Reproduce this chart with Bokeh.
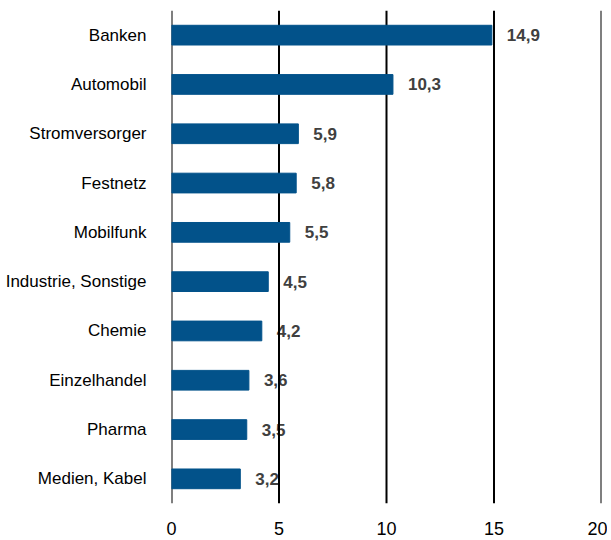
from bokeh.plotting import figure
from bokeh.models import ColumnDataSource, FixedTicker, Span
from bokeh.embed import file_html
from bokeh.resources import INLINE
from bokeh.core.properties import value

categories = ["Banken", "Automobil", "Stromversorger", "Festnetz", "Mobilfunk",
              "Industrie, Sonstige", "Chemie", "Einzelhandel", "Pharma", "Medien, Kabel"]
values = [14.9, 10.3, 5.9, 5.8, 5.5, 4.5, 4.2, 3.6, 3.5, 3.2]
labels = ["14,9", "10,3", "5,9", "5,8", "5,5", "4,5", "4,2", "3,6", "3,5", "3,2"]
x_ticks = [0, 5, 10, 15, 20]

FONT = "Liberation Sans"

src = ColumnDataSource(dict(cat=categories, val=values, lab=labels))

p = figure(y_range=list(reversed(categories)), x_range=(0, 20),
           frame_width=430, frame_height=493,
           min_border_left=171, min_border_top=10, min_border_right=6, min_border_bottom=0,
           output_backend="svg", toolbar_location=None)
p.y_range.range_padding = 0
p.outline_line_color = None
p.background_fill_color = "white"
p.border_fill_color = "white"

# value labels drawn below the vertical lines
txt = p.text(x="val", y="cat", text="lab", source=src, x_offset=15,
             text_baseline="middle", text_align="left",
             text_font=value(FONT), text_font_size="17px", text_font_style="bold",
             text_color="#404040")
txt.level = "image"

for t in x_ticks:
    p.add_layout(Span(location=t, dimension="height", line_color="black",
                      line_width=2, level="underlay"))

p.hbar(y="cat", right="val", left=0, height=0.4, source=src,
       fill_color="#02528a", line_color="#02528a")

p.xgrid.grid_line_color = None
p.ygrid.grid_line_color = None

p.xaxis.ticker = FixedTicker(ticks=x_ticks)
p.xaxis.axis_line_color = None
p.xaxis.major_tick_line_color = None
p.xaxis.minor_tick_line_color = None
p.xaxis.major_label_text_font = FONT
p.xaxis.major_label_text_font_size = "18px"
p.xaxis.major_label_text_color = "black"
p.xaxis.major_label_standoff = 12

p.yaxis.axis_line_color = None
p.yaxis.major_tick_line_color = None
p.yaxis.major_label_text_font = FONT
p.yaxis.major_label_text_font_size = "17px"
p.yaxis.major_label_text_color = "black"
p.yaxis.major_label_standoff = 19

open("out.html", "w").write(file_html(p, INLINE))
